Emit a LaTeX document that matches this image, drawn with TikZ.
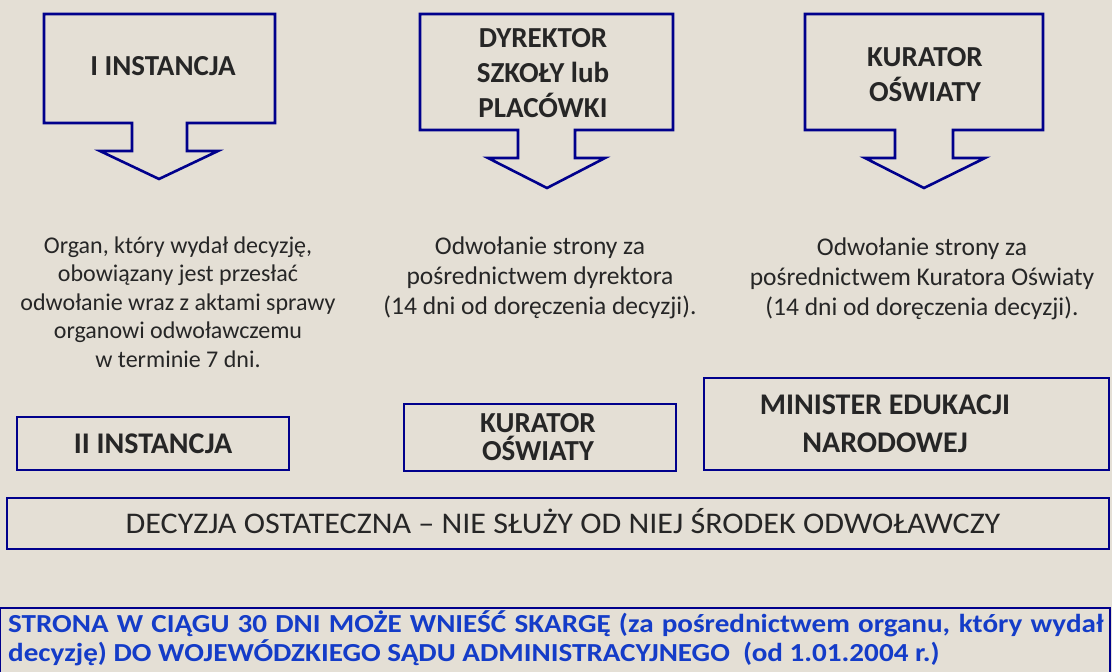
\documentclass[tikz,border=0pt]{standalone}
\usepackage{graphicx}
\usepackage{fontspec}
\setmainfont{Carlito}
\definecolor{bg}{RGB}{228,223,213}
\definecolor{navy}{RGB}{0,0,140}
\definecolor{ink}{RGB}{38,38,38}
\definecolor{linkblue}{RGB}{20,60,200}
\begin{document}
\begin{tikzpicture}[x=1pt,y=-1pt,
  callout/.style={draw=navy,line width=2.6pt,line join=miter},
  frame/.style={draw=navy,line width=2.4pt},
  head/.style={font=\bfseries\fontsize{29}{35}\selectfont,text=ink,align=center,inner sep=0pt},
  bighead/.style={font=\bfseries\fontsize{30}{38}\selectfont,text=ink,align=center,inner sep=0pt},
  note/.style={font=\fontsize{24}{28.5}\selectfont,text=ink,align=center,inner sep=0pt}]
\useasboundingbox[fill=bg] (0,0) rectangle (1112,672);

% callouts
\draw[callout] (44,14) -- (275,14) -- (275,123) -- (187,123) -- (187,151) -- (218,151)
  -- (159,179) -- (100,151) -- (132,151) -- (132,123) -- (44,123) -- cycle;
\draw[callout] (420,14) -- (673,14) -- (673,130) -- (575,130) -- (575,158) -- (605,158)
  -- (547,188) -- (488,158) -- (518,158) -- (518,130) -- (420,130) -- cycle;
\draw[callout] (805,14) -- (1043,14) -- (1043,130) -- (953,130) -- (953,158) -- (985,158)
  -- (924,188) -- (865,158) -- (895,158) -- (895,130) -- (805,130) -- cycle;

\node[head, anchor=base] (inst1) at (163,75) {I INSTANCJA};
\node[head] (dyr) at (543,73) {DYREKTOR\\SZKOŁY lub\\PLACÓWKI};
\node[head] (kur1) at (925,75) {KURATOR\\OŚWIATY};

% notes
\node[note] (n1) at (178,302) {Organ, który wydał decyzję,\\obowiązany jest przesłać\\odwołanie wraz z aktami sprawy\\organowi odwoławczemu\\w terminie 7 dni.};
\node[note, font=\fontsize{25.5}{30}\selectfont] (n2) at (540,278) {Odwołanie strony za\\pośrednictwem dyrektora\\(14 dni od doręczenia decyzji).};
\node[note, font=\fontsize{25.5}{30}\selectfont] (n3) at (922,279) {Odwołanie strony za\\pośrednictwem Kuratora Oświaty\\(14 dni od doręczenia decyzji).};

% second instance
\draw[frame] (17,417) rectangle (289,470);
\node[bighead, anchor=base] (inst2) at (153,453) {II INSTANCJA};
\draw[frame] (404,404) rectangle (676,471);
\node[head, font=\bfseries\fontsize{29}{28}\selectfont] (kur2) at (538,437) {KURATOR\\OŚWIATY};
\draw[frame] (704,378) rectangle (1109,470);
\node[bighead] (men) at (885,424) {MINISTER EDUKACJI\\NARODOWEJ};

% final decision
\draw[frame, line width=2.2pt] (7,498) rectangle (1109,549);
\node[font=\fontsize{30}{34}\selectfont, text=ink, anchor=base, inner sep=0pt] (final) at (563,533)
  {\scalebox{1.07}[1]{DECYZJA OSTATECZNA – NIE SŁUŻY OD NIEJ ŚRODEK ODWOŁAWCZY}};

% complaint
\draw[draw=navy, line width=2pt] (0,608) rectangle (1110,690);
\node[font=\bfseries\fontsize{26}{25}\selectfont, text=linkblue, anchor=base west, inner sep=0pt] (skarga) at (8,632)
  {\scalebox{1.12}[1]{\begin{tabular}[t]{@{}l@{}}\makebox[978pt][s]{STRONA W CIĄGU 30 DNI MOŻE WNIEŚĆ SKARGĘ (za pośrednictwem organu, który wydał}\\
   decyzję) DO WOJEWÓDZKIEGO SĄDU ADMINISTRACYJNEGO\ \ (od 1.01.2004 r.)\end{tabular}}};
\end{tikzpicture}
\end{document}
